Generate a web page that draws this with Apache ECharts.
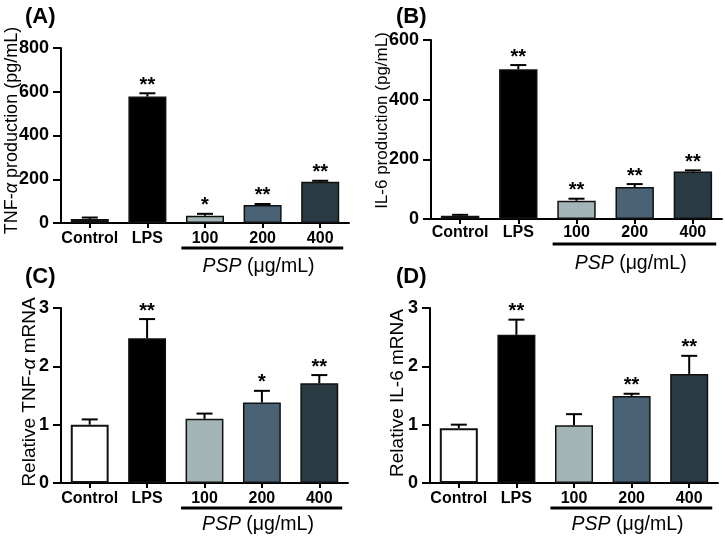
<!DOCTYPE html>
<html><head><meta charset="utf-8">
<script src="https://cdn.jsdelivr.net/npm/echarts@6/dist/echarts.min.js"></script>
<style>html,body{margin:0;padding:0;background:#fff}#c{width:725px;height:539px}</style>
</head><body><div id="c"></div>
<script>
// ---- data ----
const categories = ['Control', 'LPS', '100', '200', '400'];
const tnfProd = [18, 578, 33, 82, 189];
const tnfProdErr = [7, 15, 9, 5, 4];
const il6Prod = [11, 502, 61, 107, 159];
const il6ProdErr = [3, 14, 7, 10, 4];
const tnfMrna = [1.0, 2.48, 1.10, 1.38, 1.71];
const tnfMrnaErr = [0.09, 0.33, 0.09, 0.20, 0.14];
const il6Mrna = [0.94, 2.54, 0.99, 1.49, 1.87];
const il6MrnaErr = [0.06, 0.26, 0.19, 0.04, 0.31];
const starsA = ['', '**', '*', '**', '**'];
const starsB = ['', '**', '**', '**', '**'];
const starsC = ['', '**', '', '*', '**'];
const starsD = ['', '**', '', '**', '**'];
const pspRange = [2, 4];
const panelLetters = ['(A)', '(B)', '(C)', '(D)'];
const yNames = ['TNF-{a|α} production (pg/mL)', 'IL-6 production (pg/mL)', 'Relative TNF-{a|α} mRNA', 'Relative IL-6 mRNA'];
const yMax = [800, 600, 3, 3];
const yInterval = [200, 200, 1, 1];

const barColors = ['#ffffff', '#000000', '#a3b5b6', '#4a6275', '#293a42'];
const FF = "'Liberation Sans', Arial, Helvetica, sans-serif";

const grids = [
  {left: 61, top: 48, width: 288, height: 175},
  {left: 431, top: 40, width: 291, height: 179},
  {left: 61, top: 308, width: 287, height: 175},
  {left: 430, top: 308, width: 288, height: 175}
];
const nameSizes = [18, 17, 19, 19];
const nameGaps = [40, 40, 21.5, 22.5];
const nameShift = [10, 18, 7, 5];
const labelMargins = [8, 6, 8, 8];
const pspOffsets = [[25, 44], [25, 45], [25, 42], [25, 42]];
const titlePos = [[20, 1], [391, 1], [20, 261], [391, 261]];

const panels = [
  {vals: tnfProd, errs: tnfProdErr, stars: starsA},
  {vals: il6Prod, errs: il6ProdErr, stars: starsB},
  {vals: tnfMrna, errs: tnfMrnaErr, stars: starsC},
  {vals: il6Mrna, errs: il6MrnaErr, stars: starsD}
];

const xAxes = [], yAxes = [], series = [], titles = [];
panels.forEach((p, k) => {
  xAxes.push({
    type: 'category', gridIndex: k, data: categories,
    axisLine: {show: true, lineStyle: {color: '#000', width: 2}},
    axisTick: {show: true, alignWithLabel: true, length: 5, lineStyle: {color: '#000', width: 2}},
    axisLabel: {interval: 0, margin: labelMargins[k], color: '#000', fontFamily: FF, fontWeight: 'bold', fontSize: 16},
    splitLine: {show: false}
  });
  yAxes.push({
    type: 'value', gridIndex: k, min: 0, max: yMax[k], interval: yInterval[k],
    name: yNames[k], nameLocation: 'middle', nameGap: nameGaps[k], nameRotate: 90, nameMoveOverlap: false,
    nameTextStyle: {color: '#000', fontFamily: FF, fontSize: nameSizes[k], padding: [0, 0, 0, nameShift[k]],
      rich: {a: {fontStyle: 'italic', fontFamily: FF, fontSize: nameSizes[k], color: '#000'}}},
    axisLine: {show: true, lineStyle: {color: '#000', width: 2}},
    axisTick: {show: true, length: 8, lineStyle: {color: '#000', width: 2}},
    axisLabel: {margin: 12, color: '#000', fontFamily: FF, fontWeight: 'bold', fontSize: 18},
    splitLine: {show: false}
  });
  series.push({
    type: 'bar', xAxisIndex: k, yAxisIndex: k, barWidth: '66%',
    data: p.vals.map((v, i) => ({value: v, itemStyle: {color: barColors[i], borderColor: '#111', borderWidth: i === 0 ? 2 : 1.5}})),
    silent: true, animation: false
  });
  const stars = p.stars;
  series.push({
    type: 'custom', xAxisIndex: k, yAxisIndex: k, animation: false, clip: false, z: 5,
    encode: {x: 0, y: 1},
    data: p.vals.map((v, i) => [i, v, p.errs[i]]),
    renderItem: function (params, api) {
      const x = api.value(0), v = api.value(1), e = api.value(2);
      const base = api.coord([x, v]);
      const top = api.coord([x, v + e]);
      const half = 8;
      const children = [
        {type: 'line', shape: {x1: base[0], y1: base[1], x2: top[0], y2: top[1]}, style: {stroke: '#000', lineWidth: 2}},
        {type: 'line', shape: {x1: top[0] - half, y1: top[1], x2: top[0] + half, y2: top[1]}, style: {stroke: '#000', lineWidth: 2}}
      ];
      const s = stars[params.dataIndex];
      if (s) {
        children.push({type: 'text', style: {text: s, x: top[0], y: top[1] - 8, align: 'center', verticalAlign: 'middle',
          font: 'bold 20px ' + FF, fill: '#000'}});
      }
      return {type: 'group', children: children};
    }
  });
  const off = pspOffsets[k];
  series.push({
    type: 'custom', xAxisIndex: k, yAxisIndex: k, animation: false, clip: false, silent: true,
    encode: {x: 0, y: 1},
    data: [[pspRange[0], 0, pspRange[1]]],
    renderItem: function (params, api) {
      const pL = api.coord([api.value(0), 0]);
      const pR = api.coord([api.value(2), 0]);
      const band = api.size([1, 0])[0];
      const y = pL[1] + off[0];
      return {type: 'group', children: [
        {type: 'line', shape: {x1: pL[0] - 0.41 * band, y1: y, x2: pR[0] + 0.4 * band, y2: y}, style: {stroke: '#000', lineWidth: 3}},
        {type: 'text', style: {
          text: '{i|PSP} (μg/mL)', x: (pL[0] + pR[0]) / 2 - 4, y: pL[1] + off[1], align: 'center', verticalAlign: 'middle',
          fontFamily: FF, fontSize: 19.5, fill: '#000',
          rich: {i: {fontStyle: 'italic', fontFamily: FF, fontSize: 19.5, fill: '#000'}}
        }}
      ]};
    }
  });
  titles.push({text: panelLetters[k], left: titlePos[k][0], top: titlePos[k][1],
    textStyle: {fontFamily: FF, fontWeight: 'bold', fontSize: 22, color: '#000'}});
});

const chart = echarts.init(document.getElementById('c'), null, {renderer: 'canvas'});
chart.setOption({
  animation: false,
  backgroundColor: '#fff',
  title: titles,
  grid: grids,
  xAxis: xAxes,
  yAxis: yAxes,
  series: series
});
</script>
</body></html>
